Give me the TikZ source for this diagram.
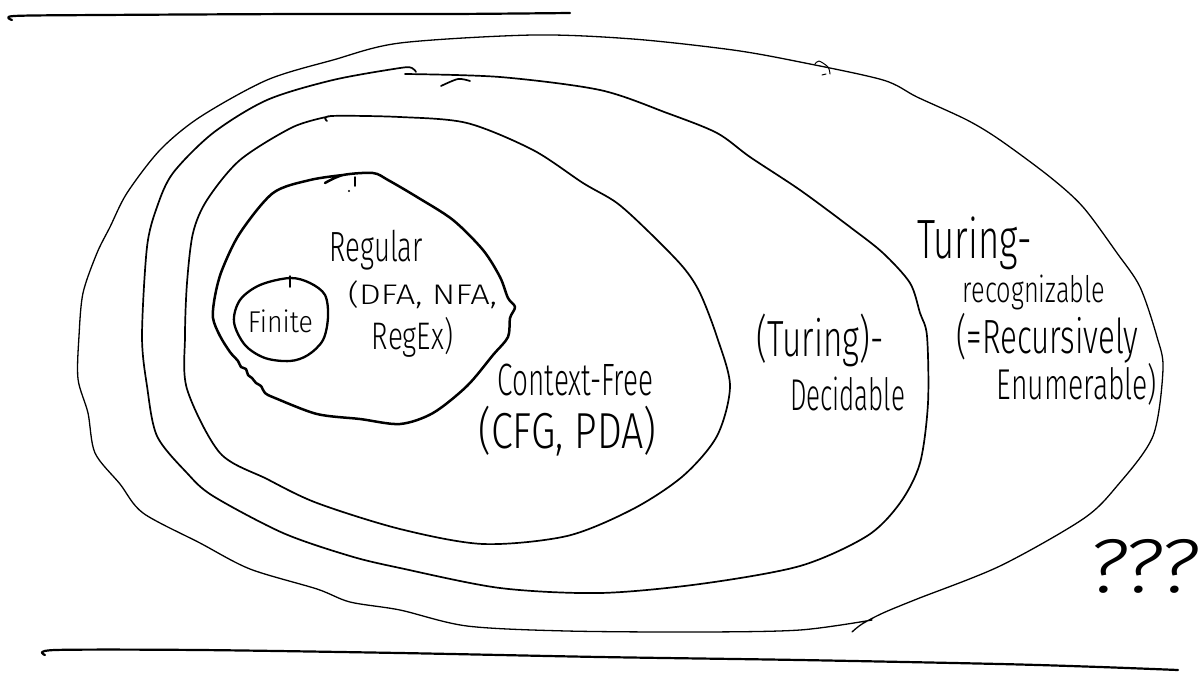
\documentclass[tikz,border=0pt]{standalone}
\usepackage{fontspec}
\IfFontExistsTF{Fira Sans Light}
  {\setmainfont{Fira Sans Light}}
  {\IfFontExistsTF{Lato Light}
    {\setmainfont{Lato Light}}
    {\setmainfont{Open Sans}}}
\usepackage{graphicx}
\newcommand{\hwtext}[3]{\resizebox*{#1pt}{#2pt}{#3}}
\begin{document}
\begin{tikzpicture}[x=1pt,y=-1pt,
  pen/.style={line cap=round, line join=round, draw=black},
  thinpen/.style={pen, line width=1.3pt},
  midpen/.style={pen, line width=1.7pt},
  thickpen/.style={pen, line width=2.5pt},
  hw/.style={inner sep=0pt, anchor=center, text=black}]
\useasboundingbox (0,0) rectangle (1199,673);
\fill[white] (0,0) rectangle (1199,673);

% top and bottom rules
\draw[thickpen, line width=2.2pt] plot[smooth, tension=0.5] coordinates {(12,20) (14,16) (100,15) (300,14) (450,14) (570,13)};
\draw[thickpen, line width=2.2pt] plot[smooth, tension=0.5] coordinates {(45,655) (55,650) (200,650) (400,653) (600,657) (800,660) (1000,664) (1100,667) (1178,670)};

% Turing-recognizable (outermost)
\draw[thinpen] plot[smooth, tension=0.5] coordinates {(872,620) (800,630) (700,632) (567,631) (467,626) (400,610) (350,602) (317,589) (250,569) (200,543) (143,513) (120,484) (95,453) (88,413) (78,379) (79,336) (83,293) (97,253) (110,227) (127,193) (160,150) (200,117) (267,80) (333,60) (400,43) (533,35) (633,39) (733,50) (800,62) (883,80) (917,97) (967,120) (1000,140) (1050,177) (1083,207) (1117,253) (1140,287) (1157,337) (1163,369) (1153,436) (1117,486) (1083,519) (1000,566) (917,599) (883,613) (862,624) (852,632)};
\draw[pen, line width=1pt] plot[smooth, tension=0.5] coordinates {(815,64) (819,61) (828,67) (830,74)};
\draw[pen, line width=1pt] (822,75) -- (826,74);

% Decidable
\draw[midpen] plot[smooth, tension=0.5] coordinates {(405,74) (500,77) (600,90) (667,113) (717,133) (750,157) (800,190) (850,227) (883,253) (910,283) (920,313) (927,336) (928,403) (920,463) (900,503) (867,536) (800,566) (700,584) (600,593) (500,588) (400,568) (350,556) (283,533) (213,496) (187,473) (157,436) (147,386) (142,336) (147,247) (157,207) (173,173) (213,133) (267,100) (333,80) (400,68) (412,68) (416,72)};
\draw[midpen] plot[smooth, tension=0.5] coordinates {(441,86) (458,79) (470,81)};

% Context-free
\draw[midpen] plot[smooth, tension=0.5] coordinates {(327,121) (331,116) (400,117) (467,123) (533,150) (583,183) (617,203) (650,233) (683,267) (700,293) (717,337) (730,386) (717,436) (683,476) (633,509) (567,536) (483,544) (400,529) (317,503) (267,479) (220,453) (187,389) (185,336) (187,283) (193,233) (207,200) (240,160) (293,127) (331,116)};

% Regular
\draw[thickpen] plot[smooth, tension=0.5] coordinates {(325,183) (343,175) (373,173) (388,180) (417,197) (453,220) (483,250) (500,277) (508,298) (515,307) (510,318) (508,337) (493,355) (467,386) (433,413) (400,424) (360,419) (317,414) (275,398) (265,393) (261,386) (256,383) (252,378) (248,375) (246,369) (241,367) (238,361) (230,352) (220,336) (213,318) (215,296) (222,270) (240,233) (273,193) (310,180) (343,175)};
\draw[pen, line width=1.5pt] (355,177) -- (355,186);
\fill (349,191) circle (1.2);

% Finite
\draw[thickpen, line width=2.3pt] plot[smooth cycle, tension=0.55] coordinates {(290,278) (310,283) (325,295) (328,317) (323,340) (308,355) (290,361) (265,358) (245,345) (234,322) (240,300) (260,285)};
\draw[pen, line width=1.5pt] (290,276) -- (290,287);

% labels
\node[hw] (finite) at (280.5,321.5) {\hwtext{65}{23}{Finite}};
\node[hw] (regular) at (376.5,250) {\hwtext{93}{40}{Regular}};
\node[hw] (regmodels) at (422.5,295) {\hwtext{149}{28}{(DFA, NFA,}};
\node[hw] (regex) at (412.5,337) {\hwtext{81}{40}{RegEx)}};
\node[hw] (cf) at (575.5,380) {\hwtext{155}{32}{Context-Free}};
\node[hw] (cfmodels) at (567.5,431) {\hwtext{178}{50}{(CFG, PDA)}};
\node[hw] (dec1) at (820,340) {\hwtext{127}{53}{(Turing)-}};
\node[hw] (dec2) at (847.5,393.5) {\hwtext{115}{34}{Decidable}};
\node[hw] (rec1) at (974.5,243.5) {\hwtext{115}{53}{Turing-}};
\node[hw] (rec2) at (1034,292.5) {\hwtext{142}{35}{recognizable}};
\node[hw] (rec3) at (1047.5,338) {\hwtext{182}{50}{(=Recursively}};
\node[hw] (rec4) at (1077,384) {\hwtext{160}{42}{Enumerable)}};
\node[hw] (unknown) at (1142.5,566) {\hwtext{111}{54}{\itshape ???}};
\end{tikzpicture}
\end{document}
